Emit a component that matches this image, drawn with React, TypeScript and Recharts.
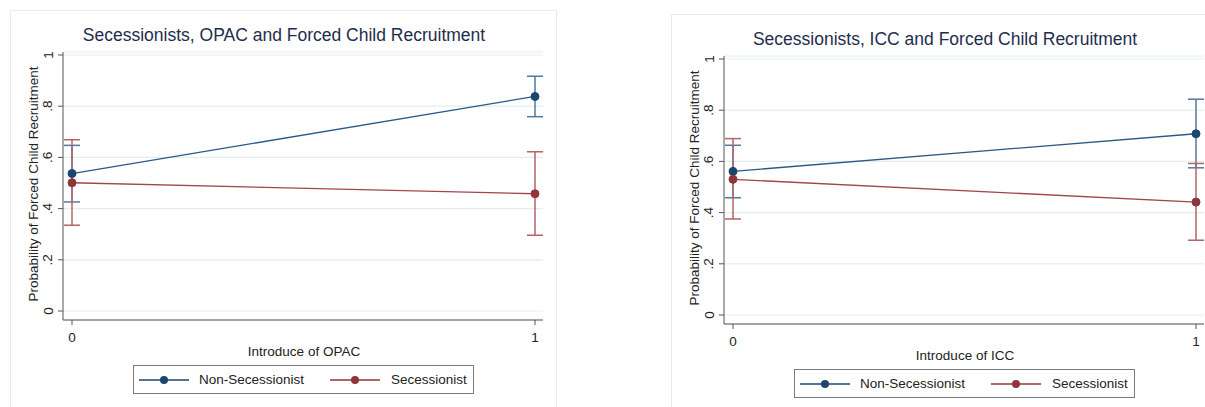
import React from 'react'
import { LineChart, Line, XAxis, YAxis, CartesianGrid, ErrorBar } from 'recharts'

// x categories (Stata 0/1 dummy)
const X_VALUES = [0, 1]
const X_TICKS = [0, 1]
const Y_TICKS = [0, 0.2, 0.4, 0.6, 0.8, 1]

// OPAC panel
const OPAC_NON_SEC = [0.537, 0.838]
const OPAC_NON_SEC_LO = [0.426, 0.759]
const OPAC_NON_SEC_HI = [0.647, 0.917]
const OPAC_SEC = [0.501, 0.458]
const OPAC_SEC_LO = [0.335, 0.296]
const OPAC_SEC_HI = [0.669, 0.622]

// ICC panel
const ICC_NON_SEC = [0.561, 0.708]
const ICC_NON_SEC_LO = [0.458, 0.575]
const ICC_NON_SEC_HI = [0.663, 0.843]
const ICC_SEC = [0.53, 0.441]
const ICC_SEC_LO = [0.375, 0.292]
const ICC_SEC_HI = [0.689, 0.592]

const NAVY = '#1a476f'
const MAROON = '#90353b'
const FONT = '"Liberation Sans", Arial, Helvetica, sans-serif'

// plot region padding like Stata
const X_DOMAIN = [-9 / 463, 1 + 8 / 463]
const Y_DOMAIN = [-9 / 256, 1 + 3 / 256]

function buildRows(non: number[], nonLo: number[], nonHi: number[], sec: number[], secLo: number[], secHi: number[]) {
  return X_VALUES.map((x, i) => ({
    x,
    nonSec: non[i],
    nonSecErr: [non[i] - nonLo[i], nonHi[i] - non[i]],
    sec: sec[i],
    secErr: [sec[i] - secLo[i], secHi[i] - sec[i]],
  }))
}

const fmtY = (v: number) => (v === 0 ? '0' : v === 1 ? '1' : String(Math.round(v * 10) / 10).replace(/^0/, ''))

function YTick(props: any) {
  const { x, y, payload } = props
  const cx = x - 8
  return (
    <text
      x={cx}
      y={y}
      transform={`rotate(-90 ${cx} ${y})`}
      textAnchor="middle"
      dominantBaseline="central"
      fill="#222"
      fontSize={13.5}
      fontFamily={FONT}
    >
      {fmtY(payload.value)}
    </text>
  )
}

function LegendIcon({ color }: { color: string }) {
  return (
    <svg width={50} height={12} style={{ display: 'block' }}>
      <line x1={0} y1={6} x2={50} y2={6} stroke={color} strokeWidth={1.3} />
      <circle cx={25} cy={6} r={4} fill={color} />
    </svg>
  )
}

interface PanelProps {
  left: number
  top: number
  title: string
  xTitle: string
  rows: ReturnType<typeof buildRows>
}

function Panel({ left, top, title, xTitle, rows }: PanelProps) {
  const textStyle: React.CSSProperties = {
    position: 'absolute',
    whiteSpace: 'nowrap',
    fontFamily: FONT,
    color: '#222',
    fontSize: 13.5,
    lineHeight: 1,
  }
  return (
    <div
      style={{
        position: 'absolute',
        left,
        top,
        width: 547,
        height: 420,
        border: '1px solid #e2eded',
        boxSizing: 'border-box',
        background: '#fff',
      }}
    >
      <div
        style={{
          ...textStyle,
          left: 273,
          top: 25,
          transform: 'translate(-50%, -50%)',
          fontSize: 17.5,
          color: '#1f2d4d',
        }}
      >
        {title}
      </div>
      <LineChart
        width={547}
        height={400}
        data={rows}
        margin={{ top: 42, right: 14, bottom: 0, left: 0 }}
        style={{ position: 'absolute', left: -1, top: -1 }}
      >
        <CartesianGrid vertical={false} stroke="#e3eded" strokeWidth={1.2} />
        <XAxis
          type="number"
          dataKey="x"
          domain={X_DOMAIN}
          ticks={X_TICKS}
          allowDataOverflow
          height={90}
          tickSize={5}
          tickMargin={7}
          stroke="#555"
          tick={{ fill: '#222', fontSize: 13.5, fontFamily: FONT }}
        />
        <YAxis
          type="number"
          domain={Y_DOMAIN}
          ticks={Y_TICKS}
          allowDataOverflow
          width={53}
          tickSize={5}
          tickMargin={2}
          stroke="#555"
          tick={<YTick />}
        />
        <Line
          dataKey="nonSec"
          stroke="#2c5885"
          strokeWidth={1.3}
          dot={{ r: 4, fill: NAVY, stroke: NAVY, strokeWidth: 1 }}
          isAnimationActive={false}
        >
          <ErrorBar dataKey="nonSecErr" width={8} stroke="#5079a0" strokeWidth={1.5} isAnimationActive={false} />
        </Line>
        <Line
          dataKey="sec"
          stroke="#a0464c"
          strokeWidth={1.3}
          dot={{ r: 4, fill: MAROON, stroke: MAROON, strokeWidth: 1 }}
          isAnimationActive={false}
        >
          <ErrorBar dataKey="secErr" width={8} stroke="#b4646a" strokeWidth={1.5} isAnimationActive={false} />
        </Line>
      </LineChart>
      <div
        style={{
          ...textStyle,
          left: 22.5,
          top: 172.5,
          transform: 'translate(-50%, -50%) rotate(-90deg)',
        }}
      >
        Probability of Forced Child Recruitment
      </div>
      <div style={{ ...textStyle, left: 293, top: 341, transform: 'translate(-50%, -50%)' }}>{xTitle}</div>
      <div
        style={{
          position: 'absolute',
          left: 122,
          top: 354,
          width: 341,
          height: 29,
          border: '1px solid #7a7a7a',
          boxSizing: 'border-box',
          fontFamily: FONT,
          fontSize: 13.5,
          color: '#222',
        }}
      >
        <div style={{ position: 'absolute', left: 5, top: 8 }}>
          <LegendIcon color={NAVY} />
        </div>
        <div style={{ ...textStyle, left: 65, top: 14, transform: 'translateY(-50%)' }}>Non-Secessionist</div>
        <div style={{ position: 'absolute', left: 196, top: 8 }}>
          <LegendIcon color={MAROON} />
        </div>
        <div style={{ ...textStyle, left: 257, top: 14, transform: 'translateY(-50%)' }}>Secessionist</div>
      </div>
    </div>
  )
}

export default function App() {
  const opacRows = buildRows(OPAC_NON_SEC, OPAC_NON_SEC_LO, OPAC_NON_SEC_HI, OPAC_SEC, OPAC_SEC_LO, OPAC_SEC_HI)
  const iccRows = buildRows(ICC_NON_SEC, ICC_NON_SEC_LO, ICC_NON_SEC_HI, ICC_SEC, ICC_SEC_LO, ICC_SEC_HI)
  return (
    <div
      style={{
        position: 'absolute',
        left: 0,
        top: 0,
        width: 1205,
        height: 407,
        overflow: 'hidden',
        background: '#fff',
      }}
    >
      <Panel
        left={10}
        top={10}
        title="Secessionists, OPAC and Forced Child Recruitment"
        xTitle="Introduce of OPAC"
        rows={opacRows}
      />
      <Panel
        left={671}
        top={14}
        title="Secessionists, ICC and Forced Child Recruitment"
        xTitle="Introduce of ICC"
        rows={iccRows}
      />
    </div>
  )
}
